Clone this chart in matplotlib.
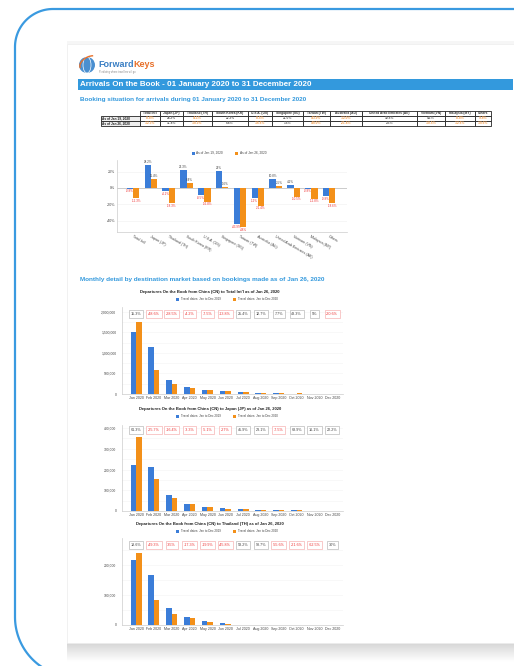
import numpy as np
import matplotlib.pyplot as plt
from matplotlib.patches import Rectangle, Circle, Ellipse, Arc

plt.rcParams['font.family'] = ['Liberation Sans', 'DejaVu Sans']

W, H = 514, 666

# ---- data ----
markets = ["Total Int'l", "Japan (JP)", "Thailand (TH)", "South Korea (KR)", "U.S.A. (US)",
           "Singapore (SG)", "Taiwan (TW)", "Australia (AU)", "United Arab Emirates (AE)",
           "Vietnam (VN)", "Malaysia (MY)", "Others"]
snapshots = ["As of Jan 19, 2020", "As of Jan 26, 2020"]
growth_jan19 = [-0.8, 28.2, -4.1, 22.3, -8.5, 21.0, -43.9, -12.0, 10.8, 4.1, -0.8, -9.8]
growth_jan26 = [-12.3, 11.4, -18.3, 6.4, -16.8, 1.6, -48.0, -21.4, 2.5, -10.5, -12.8, -18.6]

months = ["Jan 2020", "Feb 2020", "Mar 2020", "Apr 2020", "May 2020", "Jun 2020",
          "Jul 2020", "Aug 2020", "Sep 2020", "Oct 2020", "Nov 2020", "Dec 2020"]

intl_2019 = [1520000, 1150000, 330000, 160000, 95000, 75000, 45000, 30000, 30000, 12000, 4000, 3000]
intl_2020 = [1750000, 590000, 236000, 153000, 88000, 65000, 56000, 34000, 32000, 17000, 4200, 2400]
intl_change = ["15.3%", "-48.6%", "-28.5%", "-4.2%", "-7.5%", "-13.8%",
               "25.4%", "12.7%", "7.7%", "43.3%", "5%", "-20.6%"]

jp_2019 = [220000, 210000, 78000, 33000, 20000, 15000, 8000, 5000, 4000, 3000, 1000, 500]
jp_2020 = [355000, 156000, 65000, 32000, 19000, 11000, 11700, 6200, 3700, 5000, 1200, 600]
jp_change = ["61.3%", "-25.7%", "-16.4%", "-3.3%", "-5.1%", "-27%",
             "45.9%", "23.1%", "-7.5%", "68.9%", "16.1%", "22.2%"]

th_2019 = [218000, 168000, 56000, 28000, 14000, 7000, 1000, 500, 500, 300, 200, 100]
th_2020 = [241000, 85000, 37000, 23000, 11000, 3800, 1600, 1000, 220, 240, 80, 130]
th_change = ["18.6%", "-49.3%", "-35%", "-17.3%", "-19.9%", "-45.8%",
             "58.2%", "98.7%", "-55.6%", "-21.6%", "-62.5%", "30%"]

BLUE = '#3b7dd8'
ORANGE = '#f39019'
RED = '#ee3333'
FRAME = '#3a9ae0'

fig = plt.figure(figsize=(W / 100, H / 100), dpi=100)
fig.patch.set_facecolor('white')

bg = fig.add_axes([0, 0, 1, 1])
bg.set_xlim(0, W)
bg.set_ylim(H, 0)
bg.axis('off')


def px_axes(x0, y0, x1, y1):
    ax = fig.add_axes([x0 / W, 1 - y1 / H, (x1 - x0) / W, (y1 - y0) / H])
    ax.patch.set_alpha(0)
    return ax


# ---- frame and page ----
t1 = np.linspace(0, np.pi / 2, 40)
r1, c1 = 38, (53, 47)
r2, c2 = 60, (75, 617)
fx = [560] + list(c1[0] - r1 * np.sin(t1)) + list(c2[0] - r2 * np.cos(t1)) + [560]
fy = [9] + list(c1[1] - r1 * np.cos(t1)) + list(c2[1] + r2 * np.sin(t1)) + [677]
bg.plot(fx, fy, color=FRAME, lw=1.6, solid_capstyle='round')

shadow = np.linspace(0.84, 1.0, 30).reshape(-1, 1)
bg.imshow(shadow, cmap='gray', vmin=0, vmax=1, extent=[67, 514, 662, 643], aspect='auto', zorder=1)
bg.add_patch(Rectangle((67, 44), 460, 599, fc='white', ec='#ececec', lw=0.5, zorder=2))
bg.add_patch(Rectangle((67, 41), 460, 3, fc='#f6f6f6', ec='none', zorder=2))

# ---- logo ----
bg.add_patch(Circle((87, 65), 8, fc='#4a8fd0', ec='none', zorder=3))
bg.add_patch(Ellipse((87, 65), 8, 16, fc='none', ec='white', lw=0.5, zorder=4))
bg.add_patch(Arc((89, 63), 20, 12, angle=-30, theta1=180, theta2=330, ec='#e8702a', lw=1.0, zorder=4))
bg.text(98, 67, "Forward", color='#3a7fc4', fontsize=6.5, fontweight='bold', va='baseline', zorder=4)
bg.text(133, 67, "Keys", color='#e8702a', fontsize=6.5, fontweight='bold', va='baseline', zorder=4)
bg.text(99, 72, "Predicting where travellers will go", color='#888888', fontsize=1.8, va='center', zorder=4)

# ---- headers ----
bg.add_patch(Rectangle((78, 79), 435, 11, fc='#3399dd', ec='none', zorder=3))
bg.text(80, 84.8, "Arrivals On the Book - 01 January 2020 to 31 December 2020",
        color='white', fontsize=5.8, fontweight='bold', va='center', zorder=4)
bg.text(80, 100, "Booking situation for arrivals during 01 January 2020 to 31 December 2020",
        color='#3399dd', fontsize=4.6, fontweight='bold', va='center', zorder=4)
bg.text(80, 280, "Monthly detail by destination market based on bookings made as of Jan 26, 2020",
        color='#3399dd', fontsize=4.6, fontweight='bold', va='center', zorder=4)

# ---- table ----
cols = [101, 140, 160, 183, 212, 248, 272, 303, 330, 362, 417, 445, 475, 491]
rows = [110.5, 115.5, 120.5, 125.5]
for i, m in enumerate(markets):
    x0, x1 = cols[i + 1], cols[i + 2]
    bg.add_patch(Rectangle((x0, rows[0]), x1 - x0, rows[1] - rows[0], fc='white', ec='#222222', lw=0.6, zorder=3))
    bg.text((x0 + x1) / 2, (rows[0] + rows[1]) / 2, m, fontsize=2.3, fontweight='bold',
            ha='center', va='center', color='#333333', zorder=4)
for r, (label, vals) in enumerate(zip(snapshots, [growth_jan19, growth_jan26])):
    y0, y1 = rows[r + 1], rows[r + 2]
    bg.add_patch(Rectangle((cols[0], y0), cols[1] - cols[0], y1 - y0, fc='#eeeeee', ec='#222222', lw=0.6, zorder=3))
    bg.text(cols[0] + 1.5, (y0 + y1) / 2, label, fontsize=2.3, fontweight='bold',
            ha='left', va='center', color='#222222', zorder=4)
    for i, v in enumerate(vals):
        x0, x1 = cols[i + 1], cols[i + 2]
        bg.add_patch(Rectangle((x0, y0), x1 - x0, y1 - y0, fc='white', ec='#222222', lw=0.6, zorder=3))
        bg.text((x0 + x1) / 2, (y0 + y1) / 2, f"{v:.1f}%", fontsize=2.3, ha='center', va='center',
                color='#666666' if v >= 0 else '#f5a050', fontweight='bold', zorder=4)

# ---- growth bar chart ----
ax = px_axes(117, 160, 347, 232)
x = np.arange(len(markets))
bw = 0.35
ax.bar(x - bw / 2, growth_jan19, bw, color=BLUE, zorder=3)
ax.bar(x + bw / 2, growth_jan26, bw, color=ORANGE, zorder=3)
for xs, vals in [(x - bw / 2, growth_jan19), (x + bw / 2, growth_jan26)]:
    for xi, v in zip(xs, vals):
        if v >= 0:
            ax.text(xi, v + 0.8, f"{v:g}%", fontsize=2.2, ha='center', va='bottom', color='#444444')
        else:
            ax.text(xi, v - 0.8, f"{v:g}%", fontsize=2.2, ha='center', va='top', color=RED)
ax.set_xlim(-0.9, 12.0)
ax.set_ylim(-53.5, 34)
ax.set_yticks([20, 0, -20, -40])
ax.set_yticklabels(["20%", "0%", "-20%", "-40%"], fontsize=2.6, color='#444444')
ax.set_xticks(x)
ax.set_xticklabels(markets, fontsize=2.6, color='#444444', rotation=-30, ha='left', rotation_mode='anchor')
ax.tick_params(length=0, pad=1.5)
ax.grid(axis='y', color='#f0f0f0', lw=0.4, zorder=0)
ax.axhline(0, color='#bbbbbb', lw=0.5, zorder=2)
for s in ['top', 'right']:
    ax.spines[s].set_visible(False)
for s in ['left', 'bottom']:
    ax.spines[s].set_color('#cccccc')
    ax.spines[s].set_linewidth(0.5)

bg.add_patch(Rectangle((192, 151.5), 3, 3, fc=BLUE, ec='none', zorder=3))
bg.text(196.5, 153, snapshots[0], fontsize=2.3, va='center', color='#444444', zorder=4)
bg.add_patch(Rectangle((235, 151.5), 3, 3, fc=ORANGE, ec='none', zorder=3))
bg.text(239.5, 153, snapshots[1], fontsize=2.3, va='center', color='#444444', zorder=4)


# ---- monthly charts ----
def monthly_chart(top, zero, title, title_y, v2019, v2020, changes, ymax, yticks, box_y):
    ax = px_axes(122, top, 343, zero)
    xm = np.arange(len(months))
    w = 0.31
    ax.bar(xm - w / 2, v2019, w, color=BLUE, zorder=3)
    ax.bar(xm + w / 2, v2020, w, color=ORANGE, zorder=3)
    ax.set_xlim(-0.79, 11.6)
    ax.set_ylim(0, ymax)
    ax.set_yticks(yticks)
    ax.set_yticklabels([f"{v:,}" for v in yticks], fontsize=2.4, color='#444444')
    ax.set_xticks(xm)
    ax.set_xticklabels(months, fontsize=2.6, color='#444444')
    ax.tick_params(axis='x', length=0, pad=1.2)
    ax.tick_params(axis='y', length=0, pad=4)
    step = yticks[1] - yticks[0]
    for gy in np.arange(step / 2, ymax, step / 2):
        ax.axhline(gy, color='#f3f3f3', lw=0.4, zorder=0)
    for s in ['top', 'right']:
        ax.spines[s].set_visible(False)
    for s in ['left', 'bottom']:
        ax.spines[s].set_color('#cccccc')
        ax.spines[s].set_linewidth(0.5)
    for xi, c in zip(xm, changes):
        neg = c.startswith('-')
        ax.text(xi, box_y, c, transform=ax.get_xaxis_transform(), fontsize=2.7, ha='center', va='center',
                color=RED if neg else '#444444',
                bbox=dict(boxstyle='square,pad=0.45', fc='white', ec='#f4a0a0' if neg else '#aaaaaa', lw=0.4))
    bg.text(210, title_y, title, fontsize=3.0, fontweight='bold', ha='center', va='center', color='#222222', zorder=4)
    ly = title_y + 7
    bg.add_patch(Rectangle((176, ly - 1.5), 3, 3, fc=BLUE, ec='none', zorder=3))
    bg.text(181, ly, "Travel dates: Jan to Dec 2019", fontsize=2.2, va='center', color='#444444', zorder=4)
    bg.add_patch(Rectangle((233, ly - 1.5), 3, 3, fc=ORANGE, ec='none', zorder=3))
    bg.text(238, ly, "Travel dates: Jan to Dec 2020", fontsize=2.2, va='center', color='#444444', zorder=4)


monthly_chart(307, 394, "Departures On the Book from China (CN) to Total Int'l as of Jan 26, 2020", 292,
              intl_2019, intl_2020, intl_change, 2120000, [0, 500000, 1000000, 1500000, 2000000], 0.92)
monthly_chart(425, 511, "Departures On the Book from China (CN) to Japan (JP) as of Jan 26, 2020", 409,
              jp_2019, jp_2020, jp_change, 415000, [0, 100000, 200000, 300000, 400000], 0.94)
monthly_chart(538, 625, "Departures On the Book from China (CN) to Thailand (TH) as of Jan 26, 2020", 524,
              th_2019, th_2020, th_change, 290000, [0, 100000, 200000], 0.92)

fig.savefig("out.png", dpi=100, facecolor='white')
